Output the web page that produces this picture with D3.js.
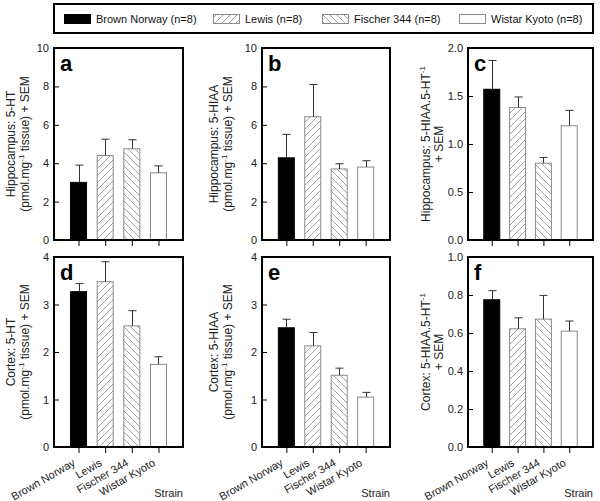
<!DOCTYPE html>
<html><head><meta charset="utf-8">
<script src="https://cdn.jsdelivr.net/npm/d3@7"></script>
<style>
body{margin:0;background:#fff;}
text{font-family:"Liberation Sans",Arial,sans-serif;}
</style></head>
<body>
<svg id="chart" width="600" height="501"></svg>
<script>
// ---- data ----
const strains = ["Brown Norway", "Lewis", "Fischer 344", "Wistar Kyoto"];
const legendLabels = ["Brown Norway (n=8)", "Lewis (n=8)", "Fischer 344 (n=8)", "Wistar Kyoto (n=8)"];

const hip5HT      = [3.00, 4.40, 4.75, 3.50];
const hip5HTSem   = [0.90, 0.85, 0.47, 0.36];
const hip5HIAA    = [4.28, 6.42, 3.70, 3.80];
const hip5HIAASem = [1.22, 1.68, 0.27, 0.33];
const hipRatio    = [1.57, 1.38, 0.80, 1.19];
const hipRatioSem = [0.30, 0.11, 0.06, 0.16];
const ctx5HT      = [3.27, 3.48, 2.55, 1.74];
const ctx5HTSem   = [0.17, 0.42, 0.32, 0.16];
const ctx5HIAA    = [2.51, 2.13, 1.51, 1.05];
const ctx5HIAASem = [0.18, 0.28, 0.15, 0.10];
const ctxRatio    = [0.775, 0.622, 0.673, 0.610];
const ctxRatioSem = [0.048, 0.058, 0.125, 0.053];

const ticks10 = [0, 2, 4, 6, 8, 10];
const ticks2  = [0, 0.5, 1.0, 1.5, 2.0];
const ticks4  = [0, 1, 2, 3, 4];
const ticks1  = [0, 0.2, 0.4, 0.6, 0.8, 1.0];

const panels = [
  {id:"a", vals:hip5HT,   sem:hip5HTSem,   max:10, ticks:ticks10, fmt:"d",   t1:"Hippocampus: 5-HT",          unit:true,  row:0, col:0},
  {id:"b", vals:hip5HIAA, sem:hip5HIAASem, max:10, ticks:ticks10, fmt:"d",   t1:"Hippocampus: 5-HIAA",        unit:true,  row:0, col:1},
  {id:"c", vals:hipRatio, sem:hipRatioSem, max:2,  ticks:ticks2,  fmt:".1f", t1:"Hippocampus: 5-HIAA.5-HT",   unit:false, row:0, col:2},
  {id:"d", vals:ctx5HT,   sem:ctx5HTSem,   max:4,  ticks:ticks4,  fmt:"d",   t1:"Cortex: 5-HT",               unit:true,  row:1, col:0},
  {id:"e", vals:ctx5HIAA, sem:ctx5HIAASem, max:4,  ticks:ticks4,  fmt:"d",   t1:"Cortex: 5-HIAA",             unit:true,  row:1, col:1},
  {id:"f", vals:ctxRatio, sem:ctxRatioSem, max:1,  ticks:ticks1,  fmt:".1f", t1:"Cortex: 5-HIAA.5-HT",        unit:false, row:1, col:2}
];

// ---- layout ----
const colX = [[54,183],[262,390],[468,593]];
const rowY = [[48,240],[257,447]];
const titleX = [[15,29],[218,232],[430,443]];

const svg = d3.select("#chart");
const defs = svg.append("defs");
function hatch(id, forward){
  const p = defs.append("pattern").attr("id", id).attr("patternUnits","userSpaceOnUse")
    .attr("width", 7).attr("height", 7);
  p.append("rect").attr("width",7).attr("height",7).attr("fill","#fff");
  const d = forward ? "M-1,8 L8,-1 M-4,4 L4,-4 M3,11 L11,3" : "M-1,-1 L8,8 M-4,3 L4,11 M3,-4 L11,4";
  p.append("path").attr("d", d).attr("stroke","#8a8a8a").attr("stroke-width",0.8);
}
hatch("hLewis", true);
hatch("hFischer", false);
const fills = ["#000", "url(#hLewis)", "url(#hFischer)", "#fff"];
const strokes = ["#000", "#8a8a8a", "#8a8a8a", "#8a8a8a"];

// ---- legend ----
const lg = svg.append("g");
lg.append("rect").attr("x",54).attr("y",4).attr("width",539).attr("height",29)
  .attr("fill","#fff").attr("stroke","#000").attr("stroke-width",2);
const legX = [64, 213, 322, 459];
legendLabels.forEach((lab,i)=>{
  lg.append("rect").attr("x",legX[i]+0.5).attr("y",14.5).attr("width",26).attr("height",9)
    .attr("fill",fills[i]).attr("stroke",strokes[i]).attr("stroke-width",1);
  lg.append("text").attr("x",legX[i]+32).attr("y",23).attr("font-size",11).attr("fill","#111").text(lab);
});

// ---- panels ----
panels.forEach(p=>{
  const [x0,x1] = colX[p.col];
  const [y0,y1] = rowY[p.row];
  const g = svg.append("g");
  const x = d3.scalePoint().domain(strains).range([x0,x1]).padding(0.92);
  const y = d3.scaleLinear().domain([0,p.max]).range([y1,y0]);
  const bw = 17;

  // bars
  g.selectAll("rect.bar").data(strains).join("rect").attr("class","bar")
    .attr("x", d=>x(d)-bw/2+0.5).attr("width", bw-1)
    .attr("y", (d,i)=>y(p.vals[i])).attr("height",(d,i)=>y(0)-y(p.vals[i]))
    .attr("fill",(d,i)=>fills[i]).attr("stroke",(d,i)=>strokes[i]).attr("stroke-width",1);

  // error bars (upper only)
  strains.forEach((s,i)=>{
    const cx = Math.round(x(s))+0.5;
    g.append("line").attr("x1",cx).attr("x2",cx).attr("y1",y(p.vals[i])).attr("y2",y(p.vals[i]+p.sem[i]))
      .attr("stroke","#333").attr("stroke-width",1);
    g.append("line").attr("x1",cx-4).attr("x2",cx+4).attr("y1",y(p.vals[i]+p.sem[i])).attr("y2",y(p.vals[i]+p.sem[i]))
      .attr("stroke","#333").attr("stroke-width",1);
  });

  // y axis (ticks inward)
  const ya = d3.axisRight(y).tickValues(p.ticks).tickSize(5).tickFormat(d3.format(p.fmt));
  const yg = g.append("g").attr("transform",`translate(${x0},0)`).call(ya);
  yg.select(".domain").remove();
  yg.selectAll("text").attr("x",-5).attr("text-anchor","end").attr("font-size",11)
    .attr("font-family","Liberation Sans, Arial, sans-serif").attr("fill","#222");

  // x axis (ticks outward)
  const xa = d3.axisBottom(x).tickSize(6).tickFormat(p.row===1 ? (d=>d) : "");
  const xg = g.append("g").attr("transform",`translate(0,${y1})`).call(xa);
  xg.select(".domain").remove();
  if(p.row===1){
    xg.selectAll("text").attr("text-anchor","end").attr("font-size",11)
      .attr("font-family","Liberation Sans, Arial, sans-serif").attr("fill","#222")
      .attr("dy",0).attr("y",0)
      .attr("transform","translate(-3,18) rotate(-30)");
    g.append("text").attr("x",x1).attr("y",497).attr("text-anchor","end").attr("font-size",11).attr("fill","#222").text("Strain");
  } else {
    xg.selectAll("text").remove();
  }

  // frame
  g.append("rect").attr("x",x0).attr("y",y0).attr("width",x1-x0).attr("height",y1-y0)
    .attr("fill","none").attr("stroke","#000").attr("stroke-width",2);

  // panel letter
  g.append("text").attr("x",x0+6).attr("y",y0+23).attr("font-size",22).attr("font-weight","bold").text(p.id);

  // y title
  const cy = (y0+y1)/2;
  const [tx1,tx2] = titleX[p.col];
  const t1 = g.append("text").attr("transform",`translate(${tx1},${cy}) rotate(-90)`)
    .attr("text-anchor","middle").attr("font-size",12).attr("fill","#222");
  t1.append("tspan").text(p.t1);
  if(!p.unit){ t1.append("tspan").attr("font-size",8).attr("dy",-5).text("-1"); }
  const t2 = g.append("text").attr("transform",`translate(${tx2},${cy}) rotate(-90)`)
    .attr("text-anchor","middle").attr("font-size",12).attr("fill","#222");
  if(p.unit){
    t2.append("tspan").text("(pmol.mg");
    t2.append("tspan").attr("font-size",8).attr("dy",-5).text("-1");
    t2.append("tspan").attr("dy",5).text(" tissue) + SEM");
  } else {
    t2.text("+ SEM");
  }
});
</script>
</body></html>
